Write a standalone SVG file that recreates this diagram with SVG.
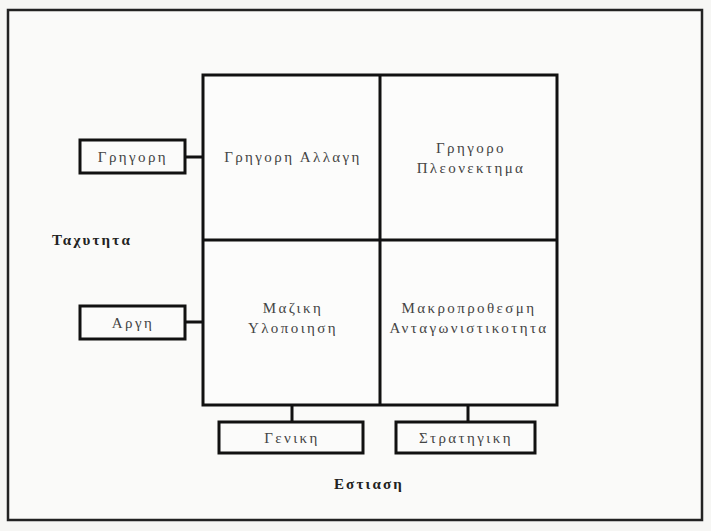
<svg xmlns="http://www.w3.org/2000/svg" width="711" height="531" viewBox="0 0 711 531">
<style>
.box{fill:#fbfbfa;stroke:#111;stroke-width:3}
.cell{fill:#fcfcfb;stroke:#111;stroke-width:3}
.t{font-family:"Liberation Serif","DejaVu Serif",serif;font-size:15px;letter-spacing:2.4px;fill:#444;text-anchor:middle}
.b{font-family:"Liberation Serif","DejaVu Serif",serif;font-size:15px;letter-spacing:2.2px;font-weight:bold;fill:#222;text-anchor:middle}
.ln{stroke:#111;stroke-width:3;fill:none}
</style>
<rect x="0" y="0" width="711" height="531" fill="#f6f6f4"/>
<rect x="8" y="10" width="694" height="510" fill="#fafaf9" stroke="#222" stroke-width="2.5"/>
<g id="connectors">
<line class="ln" x1="185" y1="157" x2="203" y2="157"/>
<line class="ln" x1="185" y1="322" x2="203" y2="322"/>
<line class="ln" x1="292" y1="405" x2="292" y2="422"/>
<line class="ln" x1="468" y1="405" x2="468" y2="422"/>
</g>
<g id="matrix">
<rect class="cell" x="203" y="75" width="354" height="330"/>
<line class="ln" x1="380" y1="75" x2="380" y2="405"/>
<line class="ln" x1="203" y1="240" x2="557" y2="240"/>
</g>
<g id="cell-tl"><text class="t" x="293" y="162">Γρηγορη Αλλαγη</text></g>
<g id="cell-tr"><text class="t" x="471" y="153">Γρηγορο</text><text class="t" x="471" y="173">Πλεονεκτημα</text></g>
<g id="cell-bl"><text class="t" x="293" y="313">Μαζικη</text><text class="t" x="293" y="333">Υλοποιηση</text></g>
<g id="cell-br"><text class="t" x="469" y="313">Μακροπροθεσμη</text><text class="t" x="469" y="333">Ανταγωνιστικοτητα</text></g>
<g id="fast"><rect class="box" x="80" y="140" width="105" height="33"/><text class="t" x="133" y="162">Γρηγορη</text></g>
<g id="slow"><rect class="box" x="80" y="306" width="105" height="33"/><text class="t" x="133" y="328">Αργη</text></g>
<g id="general"><rect class="box" x="219" y="422" width="144" height="31"/><text class="t" x="292" y="443">Γενικη</text></g>
<g id="strategic"><rect class="box" x="396" y="422" width="139" height="31"/><text class="t" x="466" y="443">Στρατηγικη</text></g>
<g id="speed-label"><text class="b" x="92" y="245">Ταχυτητα</text></g>
<g id="focus-label"><text class="b" x="369" y="489">Εστιαση</text></g>
</svg>
